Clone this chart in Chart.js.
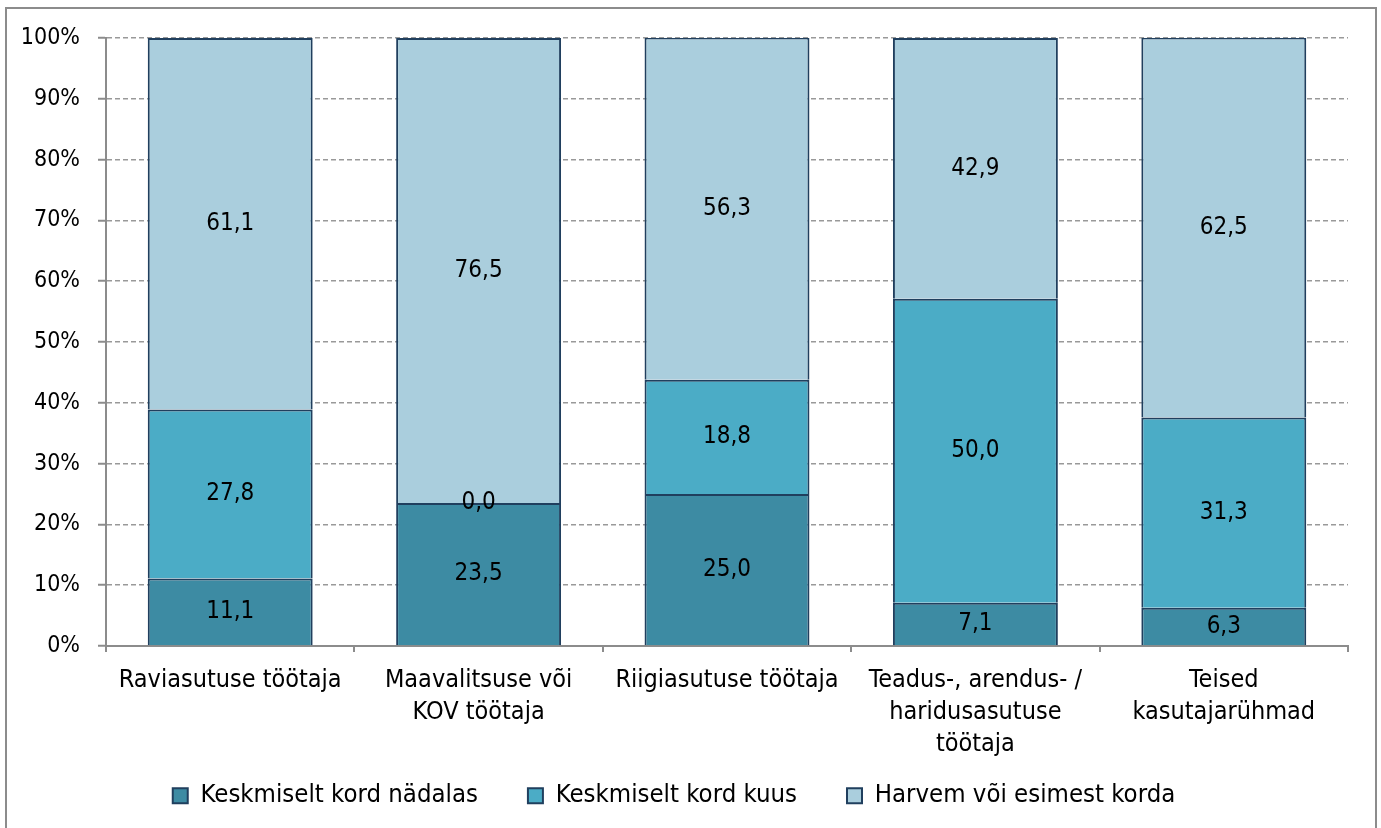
<!DOCTYPE html>
<html>
<head>
<meta charset="utf-8">
<script src="https://cdn.jsdelivr.net/npm/chart.js@4/dist/chart.umd.min.js"></script>
<style>
  html, body { margin: 0; padding: 0; background: #fff; overflow: hidden; }
  #frame { position: absolute; left: 5px; top: 7px; width: 1368px; height: 900px; border: 2px solid #8c8c8c; }
  #wrap { position: absolute; left: 0; top: 0; width: 1381px; height: 828px; }
</style>
</head>
<body>
<div id="frame"></div>
<div id="wrap"><canvas id="c" width="1381" height="828"></canvas></div>
<script>
const categories = [
  "Raviasutuse töötaja",
  ["Maavalitsuse või", "KOV töötaja"],
  "Riigiasutuse töötaja",
  ["Teadus-, arendus- /", "haridusasutuse", "töötaja"],
  ["Teised", "kasutajarühmad"]
];
const seriesNames = ["Keskmiselt kord nädalas", "Keskmiselt kord kuus", "Harvem või esimest korda"];
const weekly = [11.1, 23.5, 25.0, 7.1, 6.3];
const monthly = [27.8, 0.0, 18.8, 50.0, 31.3];
const rarely = [61.1, 76.5, 56.3, 42.9, 62.5];
const yTicks = [0, 10, 20, 30, 40, 50, 60, 70, 80, 90, 100];

const colors = ["#3d8ba3", "#4bacc6", "#aacedd"];
const borderCol = "#203f5e";
const FONT = "'DejaVu Sans Condensed', 'DejaVu Sans', sans-serif";

const labelPlugin = {
  id: 'barLabels',
  afterDatasetsDraw(chart) {
    const ctx = chart.ctx;
    ctx.save();
    ctx.font = "24px " + FONT;
    ctx.fillStyle = "#000";
    ctx.textAlign = "center";
    ctx.textBaseline = "middle";
    chart.data.datasets.forEach((ds, di) => {
      const meta = chart.getDatasetMeta(di);
      meta.data.forEach((el, i) => {
        const v = ds.data[i];
        const cy = (el.y + el.base) / 2;
        ctx.fillText(v.toFixed(1).replace('.', ','), el.x, cy);
      });
    });
    ctx.restore();
  }
};

new Chart(document.getElementById('c'), {
  type: 'bar',
  data: {
    labels: categories,
    datasets: [
      { label: seriesNames[0], data: weekly, backgroundColor: colors[0], borderColor: borderCol, borderWidth: 2 },
      { label: seriesNames[1], data: monthly, backgroundColor: colors[1], borderColor: borderCol, borderWidth: 2 },
      { label: seriesNames[2], data: rarely, backgroundColor: colors[2], borderColor: borderCol, borderWidth: 2 }
    ]
  },
  options: {
    responsive: false,
    animation: false,
    devicePixelRatio: 1,
    layout: { padding: { left: 0, top: 38, right: 33, bottom: 9.5 } },
    datasets: { bar: { categoryPercentage: 1.0, barPercentage: 0.664 } },
    plugins: {
      legend: {
        position: 'bottom',
        labels: {
          font: { family: FONT, size: 25.5 },
          color: '#000',
          boxWidth: 15,
          boxHeight: 15,
          padding: 50
        }
      },
      tooltip: { enabled: false }
    },
    scales: {
      x: {
        stacked: true,
        offset: true,
        grid: { offset: true, drawOnChartArea: false, tickLength: 6, color: '#8c8c8c', lineWidth: 2 },
        border: { color: '#8c8c8c', width: 2 },
        ticks: {
          autoSkip: false, maxRotation: 0, minRotation: 0, padding: 12,
          color: '#000',
          font: { family: FONT, size: 25, lineHeight: 1.28 }
        },
        afterFit(scale) {
          scale.height = 87;
          scale._computeLabelArea = function () { return undefined; };
        }
      },
      y: {
        stacked: true,
        min: 0, max: 100,
        afterBuildTicks(scale) { scale.ticks = yTicks.map(v => ({ value: v })); },
        grid: {
          color: '#999999', lineWidth: 1.5, tickLength: 8,
          tickColor: '#8c8c8c', tickWidth: 2, tickBorderDash: [],
        },
        border: { color: '#8c8c8c', width: 2, dash: [5, 3] },
        ticks: {
          padding: 18, color: '#000',
          font: { family: FONT, size: 23 },
          callback: v => v + '%'
        },
        afterFit(scale) { scale.width = 106; }
      }
    }
  },
  plugins: [labelPlugin]
});
</script>
</body>
</html>
